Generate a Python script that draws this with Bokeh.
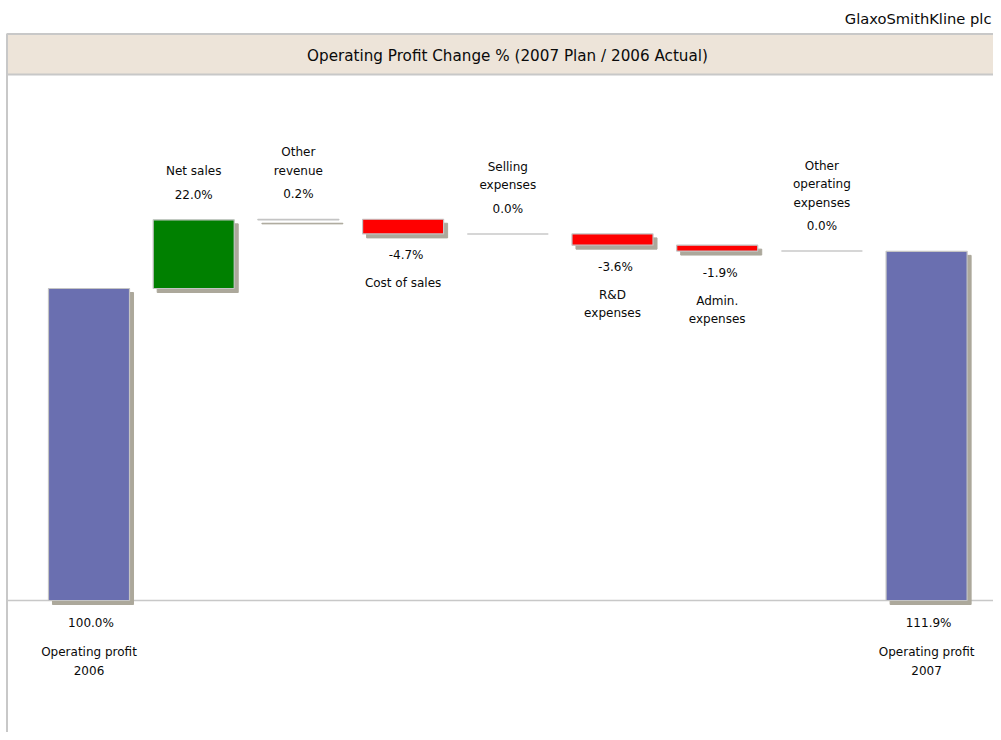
from bokeh.plotting import figure
from bokeh.models import Range1d, ColumnDataSource
from bokeh.core.properties import value
from bokeh.embed import file_html
from bokeh.resources import INLINE

# ---- data ----
categories = ["Operating profit\n2006", "Net sales", "Other\nrevenue", "Cost of sales",
              "Selling\nexpenses", "R&D\nexpenses", "Admin.\nexpenses",
              "Other\noperating\nexpenses", "Operating profit\n2007"]
changes = [100.0, 22.0, 0.2, -4.7, 0.0, -3.6, -1.9, 0.0, 111.9]
is_total = [True, False, False, False, False, False, False, False, True]
value_labels = ["100.0%", "22.0%", "0.2%", "-4.7%", "0.0%", "-3.6%", "-1.9%", "0.0%", "111.9%"]
chart_title = "Operating Profit Change % (2007 Plan / 2006 Actual)"
company = "GlaxoSmithKline plc"

# ---- styling / layout constants ----
W, H = 993, 732
PX_X = 104.7          # px per category slot
PX_Y = 3.12           # px per percent
X0_PX = 88.5          # px position of first category centre
Y0_PX = 600           # px position of 0 %
BAR_W = 0.774
FONT = "DejaVu Sans"
BLUE, GREEN, RED = "#6a6fb0", "#008000", "#ff0000"
SHADOW = "#aca89b"
EDGE = "#c4c4c4"
FRAME = "#c8c8c8"
HEADER_FILL = "#ede4d9"
TEXT = "#0a0a0a"

def dx(px):
    return px / PX_X

def dy(px):
    return px / PX_Y

x_start = -X0_PX / PX_X
x_end = (W - X0_PX) / PX_X
y_top = Y0_PX / PX_Y
y_bottom = -(H - Y0_PX) / PX_Y

def ypx(py):
    return (Y0_PX - py) / PX_Y

def xpx(px):
    return (px - X0_PX) / PX_X

p = figure(width=W, height=H, x_range=Range1d(x_start, x_end), y_range=Range1d(y_bottom, y_top),
           min_border=0, toolbar_location=None, output_backend="svg",
           x_axis_location=None, y_axis_location=None, outline_line_color=None)
p.grid.visible = False
p.background_fill_color = "white"
p.border_fill_color = "white"

# ---- waterfall geometry ----
xs, bottoms, tops, colors = [], [], [], []
running = 0.0
for i, (c, tot) in enumerate(zip(changes, is_total)):
    if tot:
        b, t = 0.0, c
        running = c
        col = BLUE
    else:
        s, e = running, running + c
        b, t = min(s, e), max(s, e)
        running = e
        col = GREEN if c > 0 else (RED if c < 0 else None)
    xs.append(i)
    bottoms.append(b)
    tops.append(t)
    colors.append(col)

# header band
hdr_top, hdr_bot = ypx(33.5), ypx(74)
p.quad(left=[xpx(6.5)], right=[x_end + 1], bottom=[hdr_bot], top=[hdr_top],
       fill_color=HEADER_FILL, line_color=FRAME, line_width=2)
# left border
p.segment(x0=[xpx(6.5)], y0=[hdr_top], x1=[xpx(6.5)], y1=[y_bottom - 5], line_color=FRAME, line_width=2)
# baseline
p.segment(x0=[xpx(6.5)], y0=[0], x1=[x_end + 1], y1=[0], line_color=FRAME, line_width=1.5)

bar_idx = [i for i in range(len(xs)) if colors[i] is not None]
sh = ColumnDataSource(dict(
    left=[xs[i] - BAR_W / 2 + dx(4) for i in bar_idx],
    right=[xs[i] + BAR_W / 2 + dx(4) for i in bar_idx],
    bottom=[bottoms[i] - dy(4) for i in bar_idx],
    top=[tops[i] - dy(4) for i in bar_idx]))
p.quad(source=sh, left="left", right="right", bottom="bottom", top="top",
       fill_color=SHADOW, line_color=SHADOW, line_width=1)

bars = ColumnDataSource(dict(
    left=[xs[i] - BAR_W / 2 for i in bar_idx],
    right=[xs[i] + BAR_W / 2 for i in bar_idx],
    bottom=[bottoms[i] for i in bar_idx],
    top=[tops[i] for i in bar_idx],
    color=[colors[i] for i in bar_idx]))
p.quad(source=bars, left="left", right="right", bottom="bottom", top="top",
       fill_color="color", line_color=EDGE, line_width=1.2)

zero_idx = [i for i in range(len(xs)) if colors[i] is None]
p.segment(x0=[xs[i] - BAR_W / 2 for i in zero_idx], x1=[xs[i] + BAR_W / 2 for i in zero_idx],
          y0=[tops[i] for i in zero_idx], y1=[tops[i] for i in zero_idx],
          line_color=FRAME, line_width=1.5)

# ---- labels ----
tx, ty, tt = [], [], []
LS = 18.5
for i, c in enumerate(changes):
    lines = categories[i].split("\n")
    if is_total[i]:
        vy = bottoms[i] - dy(22.5)
        tx.append(xs[i] + dx(2)); ty.append(vy); tt.append(value_labels[i])
        for k, ln in enumerate(lines):
            tx.append(xs[i]); ty.append(vy - dy(29 + k * LS)); tt.append(ln)
    elif c >= 0:
        vy = tops[i] + dy(25)
        tx.append(xs[i]); ty.append(vy); tt.append(value_labels[i])
        n = len(lines)
        for k, ln in enumerate(lines):
            tx.append(xs[i]); ty.append(vy + dy(23.5 + (n - 1 - k) * LS)); tt.append(ln)
    else:
        vy = bottoms[i] - dy(21.5)
        tx.append(xs[i] + dx(3)); ty.append(vy); tt.append(value_labels[i])
        for k, ln in enumerate(lines):
            tx.append(xs[i]); ty.append(vy - dy(28 + k * LS)); tt.append(ln)

p.text(x=tx, y=ty, text=tt, text_font=value(FONT), text_font_size="12px",
       text_align="center", text_baseline="middle", text_color=TEXT)

p.text(x=[xpx(507)], y=[ypx(55)], text=[chart_title], text_font=value(FONT),
       text_font_size="15.2px", text_align="center", text_baseline="middle", text_color=TEXT)
p.text(x=[xpx(991)], y=[ypx(18)], text=[company], text_font=value(FONT),
       text_font_size="14.7px", text_align="right", text_baseline="middle", text_color=TEXT)

open("out.html", "w").write(file_html(p, INLINE))
